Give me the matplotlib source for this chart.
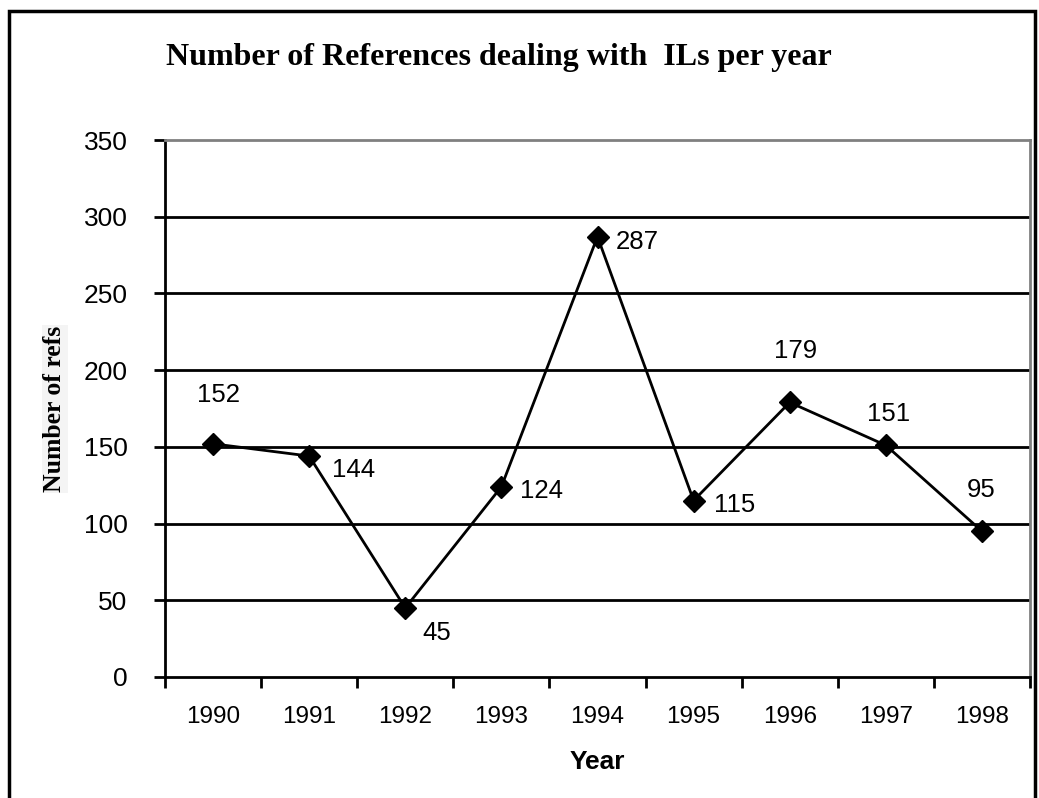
import matplotlib
matplotlib.use("Agg")
import matplotlib.pyplot as plt
from matplotlib.patches import Rectangle

years = ["1990", "1991", "1992", "1993", "1994", "1995", "1996", "1997", "1998"]
refs = [152, 144, 45, 124, 287, 115, 179, 151, 95]
# label offset (pixels) for each point
label_dx = [5, 44, 31, 40, 40, 41, 6, 3, -1]
label_dy = [49, -14, -25, -4, -5, -4, 51, 31, 41]

W, H = 1039, 798
fig = plt.figure(figsize=(W / 100, H / 100), dpi=100)
ax = fig.add_axes([165 / W, 1 - 677 / H, (1030 - 165) / W, (677 - 140) / H])

x = list(range(len(years)))
ax.plot(x, refs, color="black", lw=2, marker="D", ms=11, mfc="black", mec="black", zorder=3)

for xi, v, dx, dy in zip(x, refs, label_dx, label_dy):
    ax.annotate(str(v), (xi, v), xytext=(dx, dy), textcoords="offset pixels",
                ha="center", va="center", fontsize=18.5, family="Liberation Sans")

ax.set_xlim(-0.5, len(years) - 0.5)
ax.set_ylim(0, 350)
ax.set_yticks(range(0, 351, 50))
ax.set_xticks([i - 0.5 for i in range(len(years) + 1)], minor=False)
ax.set_xticklabels([])
ax.set_xticks(x, minor=True)
ax.set_xticklabels(years, minor=True, fontsize=17.5, family="Liberation Sans")
ax.tick_params(axis="x", which="minor", length=0, pad=21)
ax.tick_params(axis="x", which="major", direction="out", length=8, width=2)
ax.tick_params(axis="y", direction="out", length=8, width=2, pad=19, labelsize=19)
for lab in ax.get_yticklabels():
    lab.set_family("Liberation Sans")

for yv in range(50, 350, 50):
    ax.axhline(yv, color="black", lw=2, zorder=1)

ax.spines["left"].set_linewidth(2)
ax.spines["bottom"].set_linewidth(2)
ax.spines["top"].set_color("#808080")
ax.spines["right"].set_color("#808080")
ax.spines["top"].set_linewidth(2)
ax.spines["right"].set_linewidth(2)

ax.set_xlabel("Year", fontsize=19, fontweight="bold", family="Liberation Sans", labelpad=16)

fig.text(499 / W, 1 - 57 / H, "Number of References dealing with  ILs per year",
         ha="center", va="center", fontsize=23, fontweight="bold", family="Liberation Serif")
fig.text(55 / W, 1 - 409 / H, "Number of refs", rotation=90, ha="center", va="center",
         fontsize=18.5, fontweight="bold", family="Liberation Serif",
         bbox=dict(facecolor="#f4f4f4", edgecolor="none", pad=1))

fig.patches.append(Rectangle((9 / W, -0.05), (1035 - 9) / W, 1.05 - 11 / H,
                             transform=fig.transFigure, fill=False, ec="black", lw=2.5))

fig.savefig("out.png", dpi=100)
